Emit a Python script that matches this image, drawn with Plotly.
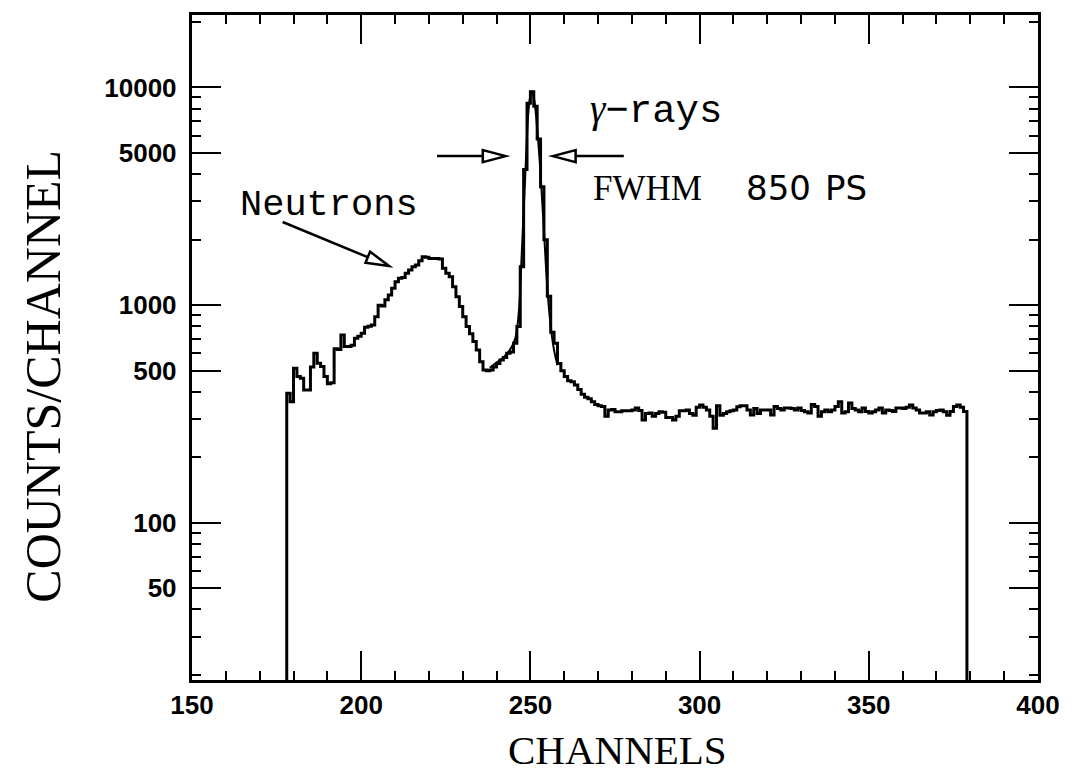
import numpy as np
import plotly.graph_objects as go

# Time-of-flight spectrum, one count value per channel (bin [ch, ch+1))
first_channel = 178
counts = [
    394, 360, 513, 470, 461, 408, 408, 520, 601, 541,   # 178-187
    522, 470, 435, 440, 630, 625, 730, 645, 645, 655,   # 188-197
    705, 720, 743, 791, 800, 810, 885, 1000, 990, 1060,  # 198-207
    1114, 1196, 1282, 1330, 1340, 1403, 1452, 1500, 1531, 1600,  # 208-217
    1671, 1660, 1638, 1638, 1640, 1630, 1478, 1400, 1352, 1216,  # 218-227
    1094, 985, 885, 797, 740, 680, 622, 550, 504, 500,   # 228-237
    504, 520, 540, 560, 575, 601, 610, 668, 797, 1500,   # 238-247
    4200, 8460, 9570, 8200, 5800, 3500, 2000, 1100, 750, 668,  # 248-257
    540, 500, 470, 450, 445, 430, 410, 390, 378, 372,   # 258-267
    360, 350, 345, 342, 309, 330, 332, 324, 324, 327,   # 268-277
    327, 327, 330, 337, 328, 297, 318, 320, 309, 318,   # 278-287
    324, 322, 305, 305, 297, 309, 327, 327, 330, 318,   # 288-297
    312, 340, 348, 340, 330, 309, 272, 345, 312, 318,   # 298-307
    324, 327, 330, 341, 345, 345, 330, 313, 335, 318,   # 308-317
    330, 330, 330, 313, 342, 335, 330, 337, 337, 335,   # 318-327
    330, 337, 328, 324, 320, 350, 342, 309, 324, 330,   # 328-337
    324, 330, 342, 360, 320, 324, 355, 335, 330, 324,   # 338-347
    337, 325, 320, 324, 330, 337, 320, 330, 328, 325,   # 348-357
    337, 337, 335, 340, 348, 337, 330, 320, 320, 324,   # 358-367
    313, 324, 328, 330, 324, 312, 325, 342, 348, 340,   # 368-377
    325,                                                # 378
]
channels = list(range(first_channel, first_channel + len(counts)))

# Smooth fit drawn over the gamma peak
fit_channels = [238, 240, 242, 244, 245.5, 246.5, 247.5, 248.5, 249.5, 250.3,
                251, 252, 253, 254, 255, 256, 257, 258]
fit_counts = [515, 545, 575, 625, 700, 900, 1800, 4000, 8000, 9600,
              9000, 6500, 4000, 2200, 1200, 800, 620, 530]

x_range = [150, 400]
y_range = [1.278, 4.333]           # log10 of counts
x_major = [150, 200, 250, 300, 350, 400]
y_major = [50, 100, 500, 1000, 5000, 10000]
y_minor = [m * d for d in (10, 100, 1000, 10000) for m in (2, 3, 4, 6, 7, 8, 9)
           if m * d not in y_major]

W, H = 1072, 774
M_L, M_R, M_T, M_B = 192, 30, 15, 94
PW, PH = W - M_L - M_R, H - M_T - M_B

floor = 10 ** y_range[0]
step_x = [channels[0]] + channels + [channels[-1] + 1, channels[-1] + 1]
step_y = [floor] + counts + [counts[-1], floor]

fig = go.Figure()
fig.add_trace(go.Scatter(x=fit_channels, y=fit_counts, mode="lines",
                         line=dict(color="black", width=2, shape="spline"),
                         hoverinfo="skip"))
fig.add_trace(go.Scatter(x=step_x, y=step_y, mode="lines",
                         line=dict(color="black", width=3, shape="hv"),
                         hoverinfo="skip"))


def to_px(ch, cnt):
    px = M_L + (ch - x_range[0]) / (x_range[1] - x_range[0]) * PW
    py = M_T + (y_range[1] - np.log10(cnt)) / (y_range[1] - y_range[0]) * PH
    return px, py


def to_paper(px, py):
    return (px - M_L) / PW, 1 - (py - M_T) / PH


def open_arrow(tail, tip, head_len=23, half_w=6):
    tx, ty = to_px(*tail)
    hx, hy = to_px(*tip)
    d = np.array([hx - tx, hy - ty])
    u = d / np.linalg.norm(d)
    n = np.array([-u[1], u[0]])
    base = np.array([hx, hy]) - head_len * u
    c1 = base + half_w * n
    c2 = base - half_w * n
    p = [to_paper(*pt) for pt in ([hx, hy], c1, c2)]
    b = to_paper(*base)
    t = to_paper(tx, ty)
    fig.add_shape(type="line", xref="paper", yref="paper",
                  x0=t[0], y0=t[1], x1=b[0], y1=b[1],
                  line=dict(color="black", width=2.5))
    path = "M {:.5f},{:.5f} L {:.5f},{:.5f} L {:.5f},{:.5f} Z".format(
        p[0][0], p[0][1], p[1][0], p[1][1], p[2][0], p[2][1])
    fig.add_shape(type="path", xref="paper", yref="paper", path=path,
                  fillcolor="white", line=dict(color="black", width=2.5))


half_max = 4840
open_arrow((176.8, 2410), (208.2, 1514))
open_arrow((222.4, half_max), (242.7, half_max))
open_arrow((277.6, half_max), (256.6, half_max))

mono = "Liberation Mono, Courier New, monospace"
serif = "Liberation Serif, Times New Roman, serif"
sans = "Liberation Sans, Arial, sans-serif"
wide_sans = "DejaVu Sans, sans-serif"

fig.add_annotation(x=190.6, y=np.log10(2884), xref="x", yref="y", text="Neutrons",
                   showarrow=False, xanchor="center", yanchor="middle",
                   font=dict(family=mono, size=37, color="black"))
fig.add_annotation(x=266.9, y=np.log10(7800), xref="x", yref="y",
                   text="<span style='font-family:Liberation Serif;font-style:italic'>γ</span>−rays",
                   showarrow=False, xanchor="left", yanchor="middle",
                   font=dict(family=mono, size=39, color="black"))
fig.add_annotation(x=267.9, y=np.log10(3450), xref="x", yref="y", text="FWHM",
                   showarrow=False, xanchor="left", yanchor="middle",
                   font=dict(family=serif, size=35, color="black"))
fig.add_annotation(x=313.2, y=np.log10(3450), xref="x", yref="y", text="850",
                   showarrow=False, xanchor="left", yanchor="middle",
                   font=dict(family=wide_sans, size=34, color="black"))
fig.add_annotation(x=336.6, y=np.log10(3450), xref="x", yref="y", text="PS",
                   showarrow=False, xanchor="left", yanchor="middle",
                   font=dict(family=wide_sans, size=34, color="black"))

# axis titles
fig.add_annotation(x=(620 - M_L) / PW, y=1 - (750 - M_T) / PH, xref="paper", yref="paper",
                   text="CHANNELS", showarrow=False, xanchor="center", yanchor="middle",
                   font=dict(family=serif, size=41, color="black"))
fig.add_annotation(x=(42 - M_L) / PW, y=1 - (376 - M_T) / PH, xref="paper", yref="paper",
                   text="COUNTS/CHANNEL", showarrow=False, textangle=-90,
                   xanchor="center", yanchor="middle",
                   font=dict(family=serif, size=50, color="black"))

axis_common = dict(showline=True, linecolor="black", linewidth=3, mirror="ticks",
                   ticks="inside", tickcolor="black", tickwidth=2, ticklen=29,
                   showgrid=False, zeroline=False,
                   tickfont=dict(family=sans, size=26, color="black", weight="bold"))

fig.update_xaxes(range=x_range, tickmode="array", tickvals=x_major,
                 ticktext=[str(v) for v in x_major],
                 minor=dict(ticks="inside", ticklen=9, tickwidth=2, tickcolor="black",
                            tickmode="array",
                            tickvals=[v for v in range(160, 400, 10) if v % 50],
                            showgrid=False),
                 **axis_common)
fig.update_yaxes(type="log", range=y_range, tickmode="array", tickvals=y_major,
                 ticktext=[str(v) + "\u00a0" for v in y_major],
                 minor=dict(ticks="inside", ticklen=9, tickwidth=2, tickcolor="black",
                            tickmode="array", tickvals=y_minor, showgrid=False),
                 **axis_common)

fig.update_layout(width=W, height=H, margin=dict(l=M_L, r=M_R, t=M_T, b=M_B),
                  paper_bgcolor="white", plot_bgcolor="white", showlegend=False)

fig.write_html("out.html")
